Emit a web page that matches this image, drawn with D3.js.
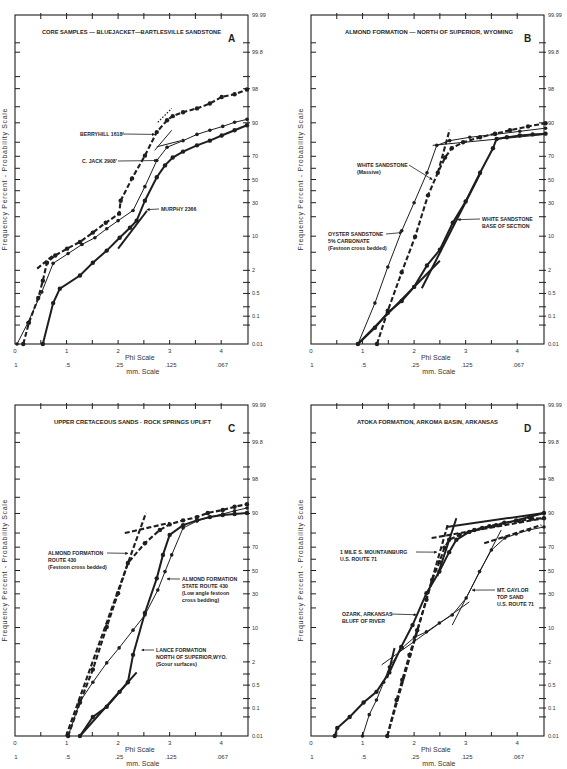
<!DOCTYPE html>
<html>
<head>
<meta charset="utf-8">
<script src="https://cdn.jsdelivr.net/npm/d3@7"></script>
<style>
body { margin: 0; background: #fff; }
svg text { font-family: "Liberation Sans", Arial, sans-serif; }
</style>
</head>
<body>
<svg id="chart" width="567" height="769"></svg>
<script>
// axis values
var phiLabels = [0, 1, 2, 3, 4];
var mmLabels = ["1", ".5", ".25", ".125", ".067"];
var phiMinor = [0.5, 1, 1.5, 2, 2.5, 3, 3.5, 4];
var probTicks = [0.05, 0.1, 0.2, 0.5, 1, 2, 5, 10, 20, 30, 40, 50, 60, 70, 80, 90, 95, 98, 99, 99.8, 99.9];
var probLabels = [0.01, 0.1, 0.5, 2, 10, 30, 50, 70, 90, 98, 99.8, 99.99];

// curves : [phi, cumulative percent]
// A - core samples
var aBerryhill = [[0.16,0.01],[0.27,0.06],[0.45,0.37],[0.54,1.1],[0.62,3.0],[0.78,4.3],[1.01,5.9],[1.26,7.9],[1.51,11.5],[1.76,16.4],[2.02,22],[2.05,31.6],[2.27,51],[2.52,70.5],[2.75,85.8],[2.95,91],[3.06,92.4],[3.26,93.6],[3.53,94.6],[3.78,95.7],[4.01,96.9],[4.26,97.3],[4.5,97.9]];
var aCJack = [[0.04,0.01],[0.25,0.06],[0.52,0.55],[0.74,2.9],[1.03,4.7],[1.30,7.1],[1.55,9.4],[1.78,13.3],[2.0,17.6],[2.29,24.2],[2.52,43.6],[2.75,66.6],[2.95,76.7],[3.26,81],[3.53,84.6],[3.78,86.7],[4.03,88.5],[4.26,90.2],[4.5,91.3]];
var aMurphy = [[0.54,0.01],[0.74,0.26],[0.87,0.68],[1.26,1.5],[1.51,3.0],[1.78,5.4],[2.03,9.4],[2.23,13.8],[2.36,17.6],[2.52,31.6],[2.75,52],[2.91,62.5],[3.06,69],[3.26,73.6],[3.53,78],[3.78,81],[4.01,84],[4.26,86.7],[4.5,89]];
// B - Almond formation
var bOyster = [[0.91,0.01],[1.24,0.26],[1.49,2.4],[1.76,12.3],[2.0,30],[2.25,56],[2.44,78],[2.69,81],[3.08,83],[3.57,84.6],[4.05,86.2],[4.55,87.7]];
var bWhiteMassive = [[1.28,0.01],[1.49,0.15],[1.76,1.8],[2.02,9.8],[2.27,36],[2.46,56],[2.60,69],[2.73,76],[2.95,80],[3.28,83],[3.57,85],[3.86,86.7],[4.21,88.5],[4.55,89.8]];
var bWhiteBase = [[0.91,0.01],[1.24,0.04],[1.49,0.13],[1.76,0.3],[2.0,0.76],[2.25,2.6],[2.5,5.6],[2.75,16.4],[3.0,31],[3.28,56],[3.53,76],[3.60,82],[3.80,83],[4.05,84],[4.30,84.6],[4.55,85]];
// C - Upper Cretaceous sands
var cAlmond430 = [[1.03,0.01],[1.26,0.15],[1.51,1.3],[1.78,10.2],[2.0,30.5],[2.19,56.7],[2.52,73],[2.81,81.9],[3.0,85],[3.26,87],[3.53,88.5],[3.74,90.2],[4.03,91.3],[4.26,92.4],[4.5,93.2]];
var cAlmondSR430 = [[1.03,0.01],[1.26,0.16],[1.51,0.6],[1.78,1.9],[2.02,4.1],[2.29,9.0],[2.52,15.9],[2.77,33],[2.91,49],[3.04,63.7],[3.26,83],[3.53,86.7],[3.78,88.5],[4.03,89.8],[4.26,91],[4.5,92]];
var cLance = [[1.26,0.01],[1.51,0.05],[1.78,0.11],[2.03,0.32],[2.19,0.6],[2.29,2.9],[2.52,17],[2.75,43],[2.87,63.7],[3.0,78.8],[3.26,84.6],[3.53,87],[3.78,88.5],[4.03,89.4],[4.26,89.8],[4.5,90.2]];
// D - Atoka formation
var dMountainburg = [[1.48,0.01],[1.66,0.18],[1.77,0.7],[1.91,2.9],[2.06,9],[2.24,25.5],[2.35,41.6],[2.49,57.5],[2.59,69.5],[2.68,75.5],[2.88,78.8],[3.17,81.9],[3.46,84],[3.75,85.8],[4.04,86.7],[4.29,87.7],[4.52,88]];
var dOzark = [[0.46,0.01],[0.51,0.02],[0.75,0.05],[1.02,0.15],[1.27,0.32],[1.52,1.1],[1.75,4.3],[1.97,11],[2.24,30.5],[2.49,49],[2.68,66],[2.82,75.5],[3.07,80.7],[3.32,83],[3.59,84.6],[3.98,87],[4.23,88.5],[4.52,90.2]];
var dGaylor = [[1.0,0.01],[1.13,0.06],[1.27,0.18],[1.41,0.6],[1.52,1.5],[1.77,4.1],[2.01,6.7],[2.24,8.4],[2.49,11.9],[2.74,15.9],[3.01,26.8],[3.27,49],[3.50,67.7],[3.76,76.7],[3.98,79.4],[4.23,81.9],[4.52,83.6]];

// straight fitted segments
var aFits = [["dash",[[0.43,2.2],[0.74,4.3]]],["thin",[[0.78,0.35],[0.87,0.7]]],["heavy",[[2.0,5.9],[2.56,24]]],["dot",[[2.77,90.2],[3.04,94.6]]],["thin",[[2.75,77],[3.22,81]]],["thin",[[2.71,74.5],[3.04,86.7]]]];
var bFits = [["dash",[[2.46,56],[2.69,87]]],["thin",[[2.36,78],[4.55,84.6]]],["heavy",[[0.91,0.01],[2.5,3.3]]],["heavy",[[2.15,0.7],[3.3,57]]]];
var cFits = [["dash",[[0.99,0.01],[2.54,90.2]]],["dash",[[2.13,80],[3.0,85.8]]],["heavy",[[1.26,0.01],[2.36,1.1]]]];
var dFits = [["dash",[[1.48,0.01],[2.65,84.6]]],["dash",[[2.34,76.7],[4.52,88]]],["heavy",[[2.63,83.6],[4.52,90.2]]],["thin",[[1.37,1.7],[3.07,24]]],["thin",[[2.74,11],[3.69,81.9]]],["dash",[[3.36,73],[4.47,84.6]]],["heavy",[[1.48,0.78],[1.62,4.1]]],["heavy",[[2.45,45],[2.82,88]]]];

var titles = ["CORE SAMPLES \u2014 BLUEJACKET\u2014BARTLESVILLE SANDSTONE",
              "ALMOND FORMATION \u2014 NORTH OF SUPERIOR, WYOMING",
              "UPPER CRETACEOUS SANDS \u00b7 ROCK SPRINGS UPLIFT",
              "ATOKA FORMATION, ARKOMA BASIN, ARKANSAS"];

// inverse normal cdf (Acklam)
function probit(p){
  var a=[-3.969683028665376e+01,2.209460984245205e+02,-2.759285104469687e+02,1.383577518672690e+02,-3.066479806614716e+01,2.506628277459239e+00];
  var b=[-5.447609879822406e+01,1.615858368580409e+02,-1.556989798598866e+02,6.680131188771972e+01,-1.328068155288572e+01];
  var c=[-7.784894002430293e-03,-3.223964580411365e-01,-2.400758277161838e+00,-2.549732539343734e+00,4.374664141464968e+00,2.938163982698783e+00];
  var d=[7.784695709041462e-03,3.224671290700398e-01,2.445134137142996e+00,3.754408661907416e+00];
  var pl=0.02425, q, r;
  if(p<pl){q=Math.sqrt(-2*Math.log(p));return (((((c[0]*q+c[1])*q+c[2])*q+c[3])*q+c[4])*q+c[5])/((((d[0]*q+d[1])*q+d[2])*q+d[3])*q+1);}
  if(p<=1-pl){q=p-0.5;r=q*q;return (((((a[0]*r+a[1])*r+a[2])*r+a[3])*r+a[4])*r+a[5])*q/(((((b[0]*r+b[1])*r+b[2])*r+b[3])*r+b[4])*r+1);}
  q=Math.sqrt(-2*Math.log(1-p));return -(((((c[0]*q+c[1])*q+c[2])*q+c[3])*q+c[4])*q+c[5])/((((d[0]*q+d[1])*q+d[2])*q+d[3])*q+1);
}

var panels = [
  {left:15, top:15, h:329, title:titles[0], tx:[42,221], letter:"A", series:[[aBerryhill,"dash"],[aCJack,"thin"],[aMurphy,"heavy"]], fits:aFits,
   notes:[{lines:["BERRYHILL 1618'"],tx:65,ty:119,from:[107,119],tip:[2.71,84.6]},
          {lines:["C. JACK 2908'"],tx:67,ty:146,from:[103,146],tip:[2.75,66.6]},
          {lines:["MURPHY 2366"],tx:146,ty:194,from:[144,194],tip:[2.56,24.8]}]},
  {left:311, top:15, h:329, title:titles[1], tx:[345,513], letter:"B", series:[[bOyster,"thin"],[bWhiteMassive,"dash"],[bWhiteBase,"heavy"]], fits:bFits,
   notes:[{lines:["WHITE SANDSTONE","(Massive)"],tx:46,ty:150,from:[98,150],tip:[2.35,50]},
          {lines:["OYSTER SANDSTONE","5% CARBONATE","(Festoon cross bedded)"],tx:17,ty:219,from:[75,219],tip:[1.76,11.5]},
          {lines:["WHITE SANDSTONE","BASE OF SECTION"],tx:171,ty:204,from:[169,204],tip:[2.85,18.2]}]},
  {left:15, top:405, h:331, title:titles[2], tx:[54,211], letter:"C", series:[[cAlmond430,"dash"],[cAlmondSR430,"thin"],[cLance,"heavy"]], fits:cFits,
   notes:[{lines:["ALMOND FORMATION","ROUTE 430","(Festoon cross bedded)"],tx:33,ty:148,from:[92,148],tip:[2.19,65]},
          {lines:["ALMOND FORMATION","STATE ROUTE 430","(Low angle festoon","cross bedding)"],tx:167,ty:174,from:[165,174],tip:[2.95,42.5]},
          {lines:["LANCE FORMATION","NORTH OF SUPERIOR,WYO.","(Scour surfaces)"],tx:141,ty:245,from:[139,245],tip:[2.46,3.7]}]},
  {left:311, top:405, h:331, title:titles[3], tx:[357,498], letter:"D", series:[[dOzark,"heavy"],[dMountainburg,"dash"],[dGaylor,"thin"]], fits:dFits,
   notes:[{lines:["1 MILE S. MOUNTAINBURG","U.S. ROUTE 71"],tx:29,ty:147,from:[105,147],tip:[2.44,66]},
          {lines:["OZARK, ARKANSAS","BLUFF OF RIVER"],tx:31,ty:209,from:[80,209],tip:[2.04,16]},
          {lines:["MT. GAYLOR","TOP SAND","U.S. ROUTE 71"],tx:186,ty:185,from:[184,185],tip:[3.13,33]}]}
];

var ink = "#1e1e1e";
var textInk = "#333333";
var strokeW = {heavy:2, dash:2.1, thin:1, dot:1.2};
var dashes = {heavy:null, dash:"5,2.4", thin:null, dot:"1.6,1.6"};

var svg = d3.select("#chart");
svg.append("defs").append("marker")
  .attr("id","arr").attr("viewBox","0 0 6 6").attr("refX",5).attr("refY",3)
  .attr("markerWidth",4).attr("markerHeight",4).attr("orient","auto")
  .append("path").attr("d","M0,0L6,3L0,6Z").attr("fill",ink);

var W = 233;

panels.forEach(function(p){
  var g = svg.append("g").attr("transform","translate("+p.left+","+p.top+")");
  var x = d3.scaleLinear().domain([0, 4.52]).range([0, W]);
  var z = d3.scaleLinear().domain([probit(0.0001), probit(0.9999)]).range([p.h, 0]);
  var y = function(v){ return z(probit(v/100)); };

  // frame
  g.append("rect").attr("x",0).attr("y",0).attr("width",W).attr("height",p.h)
    .attr("fill","none").attr("stroke",ink).attr("stroke-width",1.1);

  // ticks
  g.selectAll(".tb").data(phiMinor).enter().append("line")
    .attr("x1",x).attr("x2",x).attr("y1",p.h).attr("y2",p.h-4).attr("stroke",ink);
  g.selectAll(".tt").data(phiMinor).enter().append("line")
    .attr("x1",x).attr("x2",x).attr("y1",-2).attr("y2",4).attr("stroke",ink);
  g.selectAll(".tl").data(probTicks).enter().append("line")
    .attr("x1",0).attr("x2",5).attr("y1",y).attr("y2",y).attr("stroke",ink);
  g.selectAll(".tr").data(probTicks).enter().append("line")
    .attr("x1",W-5).attr("x2",W+2).attr("y1",y).attr("y2",y).attr("stroke",ink);

  // right probability labels
  g.selectAll(".pl").data(probLabels).enter().append("text")
    .attr("x",W+4).attr("y",function(d){ return y(d)+2; }).attr("fill",textInk)
    .style("font-size","5.5px").text(function(d){ return String(d); });

  // bottom labels
  g.selectAll(".phl").data(phiLabels).enter().append("text")
    .attr("x",function(d){ return x(d); }).attr("y",p.h+9).attr("text-anchor","middle")
    .attr("fill",textInk).style("font-size","6px").text(function(d){ return d; });
  g.selectAll(".mml").data(mmLabels).enter().append("text")
    .attr("x",function(d,i){ return x(i)+1; }).attr("y",p.h+23).attr("text-anchor","middle")
    .attr("fill",textInk).style("font-size","6px").text(function(d){ return d; });
  g.append("text").attr("x",x(2.42)).attr("y",p.h+16).attr("text-anchor","middle")
    .attr("fill",textInk).style("font-size","7px").text("Phi Scale");
  g.append("text").attr("x",x(2.48)).attr("y",p.h+30).attr("text-anchor","middle")
    .attr("fill",textInk).style("font-size","7px").text("mm. Scale");

  // left axis title
  g.append("text").attr("transform","translate(-8,"+z(0)+") rotate(-90)")
    .attr("text-anchor","middle").attr("fill",textInk).style("font-size","7px")
    .attr("textLength",142).attr("lengthAdjust","spacing")
    .text("Frequency Percent  -  Probability Scale");

  // title + letter
  g.append("text").attr("x",p.tx[0]-p.left).attr("y",19).attr("fill",ink)
    .attr("textLength",p.tx[1]-p.tx[0]).attr("lengthAdjust","spacingAndGlyphs")
    .style("font-size","6px").style("font-weight","bold").text(p.title);
  g.append("text").attr("x",W-20).attr("y",27).attr("fill",ink)
    .style("font-size","10px").style("font-weight","bold").text(p.letter);

  var line = d3.line().x(function(d){ return x(d[0]); }).y(function(d){ return y(d[1]); });

  // fitted straight segments
  p.fits.forEach(function(f){
    g.append("path").attr("d",line(f[1])).attr("fill","none").attr("stroke",ink)
      .attr("stroke-width",strokeW[f[0]]).attr("stroke-dasharray",dashes[f[0]]);
  });

  // data curves with dots
  p.series.forEach(function(s){
    var pts = s[0], st = s[1];
    g.append("path").attr("d",line(pts)).attr("fill","none").attr("stroke",ink)
      .attr("stroke-width",strokeW[st]).attr("stroke-dasharray",dashes[st]);
    g.selectAll(null).data(pts).enter().append("circle")
      .attr("cx",function(d){ return x(d[0]); }).attr("cy",function(d){ return y(d[1]); })
      .attr("r", st==="thin" ? 1.8 : 2.2).attr("fill",ink);
  });

  // annotations
  p.notes.forEach(function(n){
    n.lines.forEach(function(t,i){
      g.append("text").attr("x",n.tx).attr("y",n.ty+2+i*7).attr("fill",ink)
        .style("font-size","5.2px").style("font-weight","bold").text(t);
    });
    g.append("line").attr("x1",n.from[0]).attr("y1",n.from[1])
      .attr("x2",x(n.tip[0])).attr("y2",y(n.tip[1]))
      .attr("stroke",ink).attr("stroke-width",0.8).attr("marker-end","url(#arr)");
  });
});
</script>
</body>
</html>
